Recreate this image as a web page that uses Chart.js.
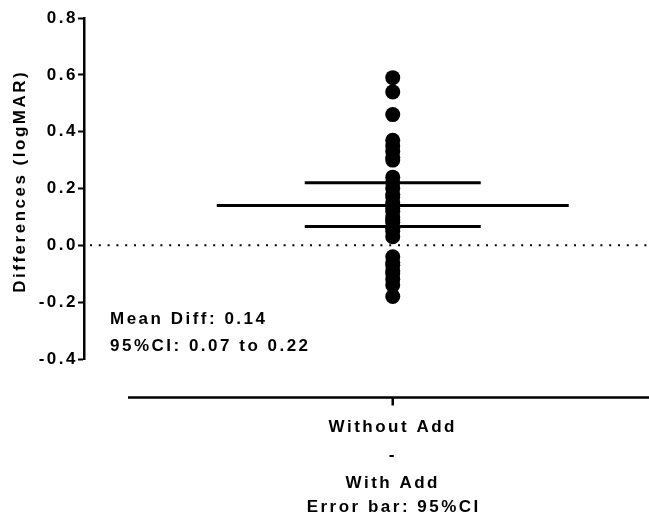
<!DOCTYPE html>
<html>
<head>
<meta charset="utf-8">
<script src="https://cdn.jsdelivr.net/npm/chart.js@4/dist/chart.umd.min.js"></script>
<style>
  html, body { margin: 0; padding: 0; background: #fff; }
  #wrap { width: 649px; height: 513px; }
</style>
</head>
<body>
<div id="wrap"><canvas id="diffChart"></canvas></div>
<script>
// individual differences, Without Add - With Add (logMAR)
const differences = [
    0.59, 0.54, 0.46, 0.37, 0.35, 0.33, 0.31, 0.30,
    0.24, 0.22, 0.20, 0.18, 0.17, 0.15, 0.14, 0.13, 0.12, 0.10,
    0.09, 0.08, 0.06, 0.05, 0.03,
    -0.04, -0.06, -0.07, -0.09, -0.10, -0.12, -0.14, -0.18
];
const meanDiff = 0.14;
const ciLow = 0.066;
const ciHigh = 0.22;
const yTicks = [-0.4, -0.2, 0.0, 0.2, 0.4, 0.6, 0.8];
const groupLabel = ['Without Add', '-', 'With Add'];
const errorBarNote = 'Error bar: 95%CI';

const FONT = '"Liberation Sans", Arial, sans-serif';
const SPACING = '2.5px';
Chart.defaults.font.family = FONT;
Chart.defaults.color = '#000';

// x axis is only a slot for the single group, placed at x = 1
const xMin = 0, xMax = 1.83;
const meanHalf = 0.57, ciHalf = 0.285;

function hLine(y, half, width, dash) {
    return {
        data: [{ x: 1 - half, y: y }, { x: 1 + half, y: y }],
        showLine: true,
        borderColor: '#000',
        borderWidth: width,
        borderDash: dash || [],
        pointRadius: 0
    };
}

// Prism style: letter spacing, detached x axis and the summary text
const prismLook = {
    id: 'prismLook',
    beforeUpdate(chart) { chart.ctx.letterSpacing = SPACING; },
    beforeDraw(chart) { chart.ctx.letterSpacing = SPACING; },
    afterDraw(chart) {
        const { ctx, chartArea, scales } = chart;
        const axisY = chartArea.bottom + 38.5;
        const cx = scales.x.getPixelForValue(1);
        ctx.save();
        ctx.strokeStyle = '#000';
        ctx.lineWidth = 2.5;
        ctx.beginPath();
        ctx.moveTo(chartArea.left + 44, axisY);
        ctx.lineTo(chartArea.right, axisY);
        ctx.moveTo(cx, axisY);
        ctx.lineTo(cx, axisY + 8);
        ctx.stroke();

        ctx.fillStyle = '#000';
        ctx.font = 'bold 17px ' + FONT;
        ctx.letterSpacing = SPACING;
        ctx.textBaseline = 'middle';
        ctx.textAlign = 'left';
        ctx.fillText('Mean Diff: ' + meanDiff.toFixed(2), chartArea.left + 26, chartArea.bottom - 40);
        ctx.fillText('95%CI: ' + ciLow.toFixed(2) + ' to ' + ciHigh.toFixed(2), chartArea.left + 26, chartArea.bottom - 13);
        ctx.textAlign = 'center';
        ctx.fillText(errorBarNote, cx + 1, chartArea.bottom + 148);
        ctx.restore();
    }
};

const boldFont = { family: FONT, size: 17, weight: 'bold' };

new Chart(document.getElementById('diffChart'), {
    type: 'scatter',
    data: {
        datasets: [
            {
                data: differences.map(v => ({ x: 1, y: v })),
                backgroundColor: '#000',
                borderWidth: 0,
                pointRadius: 7.5
            },
            hLine(meanDiff, meanHalf, 3),
            hLine(ciHigh, ciHalf, 3),
            hLine(ciLow, ciHalf, 3),
            {
                data: [{ x: xMin, y: 0 }, { x: xMax, y: 0 }],
                showLine: true,
                borderColor: '#000',
                borderWidth: 2,
                borderDash: [2, 6.8],
                borderDashOffset: -6,
                pointRadius: 0
            }
        ]
    },
    options: {
        responsive: true,
        maintainAspectRatio: false,
        animation: false,
        layout: { autoPadding: false, padding: { top: 18, right: 0, left: 0, bottom: 0 } },
        plugins: { legend: { display: false }, tooltip: { enabled: false } },
        scales: {
            x: {
                type: 'linear',
                min: xMin,
                max: xMax,
                afterBuildTicks: s => { s.ticks = [{ value: 1 }]; },
                ticks: {
                    callback: () => groupLabel,
                    font: { family: FONT, size: 17, weight: 'bold', lineHeight: 28 / 17 },
                    padding: 54,
                    maxRotation: 0,
                    autoSkip: false
                },
                grid: { display: false, drawTicks: false },
                border: { display: false },
                afterFit: s => { s.height = 154; s.paddingLeft = 0; s.paddingRight = 0; }
            },
            y: {
                min: -0.4,
                max: 0.8,
                afterBuildTicks: s => { s.ticks = yTicks.map(v => ({ value: v })); },
                ticks: { font: boldFont, padding: 0, callback: v => v.toFixed(1) },
                grid: { drawOnChartArea: false, drawTicks: true, tickLength: 6, tickWidth: 2, tickColor: '#000' },
                border: { display: true, color: '#000', width: 2.5 },
                title: { display: true, text: '  Differences (logMAR)', font: boldFont, padding: { top: 10, bottom: 0 } },
                afterFit: s => { s.width = 84; }
            }
        }
    },
    plugins: [prismLook]
});
</script>
</body>
</html>
